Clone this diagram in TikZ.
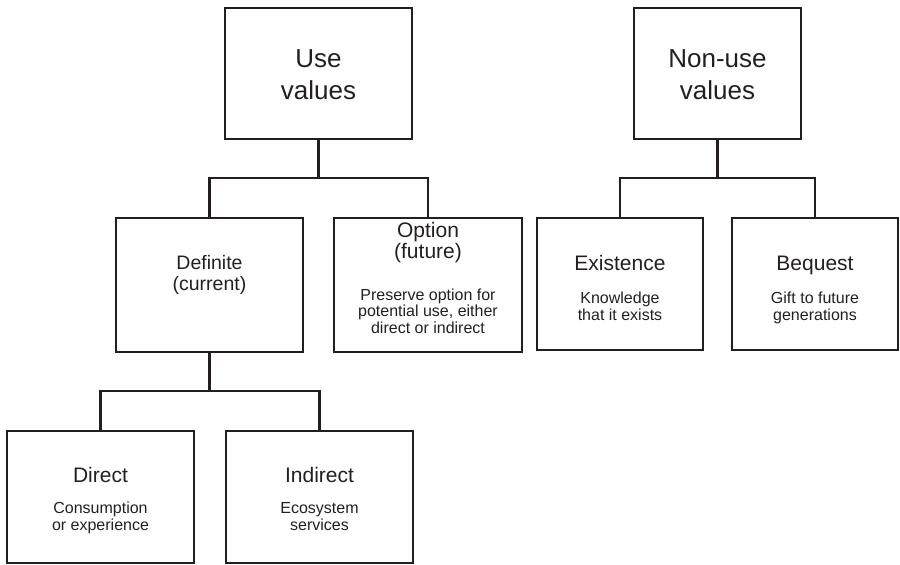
\documentclass[tikz,border=0pt]{standalone}
\usepackage{fontspec}
\setmainfont{Liberation Sans}
\definecolor{ink}{RGB}{35,31,32}
\begin{document}
\begin{tikzpicture}[x=1pt,y=-1pt,
  box/.style={draw=ink, line width=1.2pt, inner sep=0pt, outer sep=0pt},
  conn/.style={draw=ink, line width=2.6pt, line join=miter},
  txt/.style={text=ink, inner sep=0pt, anchor=base},
  ttl/.style={txt, font=\fontsize{26}{30}\selectfont},
  hd/.style={txt, font=\fontsize{21}{25}\selectfont},
  hdd/.style={txt, font=\fontsize{19.5}{23}\selectfont},
  sm/.style={txt, font=\fontsize{16}{19}\selectfont}]
\useasboundingbox (0,0) rectangle (900,565);

% boxes
\node[box, minimum width=187pt, minimum height=131pt] (use) at (318.5,73.5) {};
\node[box, minimum width=167pt, minimum height=131pt] (non) at (717.5,73.5) {};
\node[box, minimum width=187pt, minimum height=134pt] (def) at (209.5,285) {};
\node[box, minimum width=188pt, minimum height=134pt] (opt) at (428,285) {};
\node[box, minimum width=166pt, minimum height=132pt] (exi) at (620,284) {};
\node[box, minimum width=166pt, minimum height=132pt] (beq) at (815,284) {};
\node[box, minimum width=187pt, minimum height=132pt] (dir) at (100.5,497) {};
\node[box, minimum width=187pt, minimum height=132pt] (ind) at (319.5,497) {};

% connectors
\coordinate (j1) at (318.5,178);
\coordinate (j2) at (717.5,178);
\coordinate (j3) at (209.5,391);
\draw[conn] (use.south) -- (j1);
\draw[conn] (def.north) |- (j1) -| (opt.north);
\draw[conn] (non.south) -- (j2);
\draw[conn] (exi.north) |- (j2) -| (beq.north);
\draw[conn] (def.south) -- (j3);
\draw[conn] (dir.north) |- (j3) -| (ind.north);

% texts
\node[ttl] (use1) at (318.5,67) {Use};
\node[ttl] (use2) at (318.5,99) {values};
\node[ttl] (non1) at (717.5,67) {Non-use};
\node[ttl] (non2) at (717.5,99) {values};

\node[hdd] (def1) at (209.5,269) {Definite};
\node[hdd] (def2) at (209.5,290.5) {(current)};

\node[hd] (opt1) at (428,237) {Option};
\node[hd] (opt2) at (428,258) {(future)};
\node[sm] (opt3) at (428,300) {Preserve option for};
\node[sm] (opt4) at (428,316.7) {potential use, either};
\node[sm] (opt5) at (428,333.3) {direct or indirect};

\node[hd] (exi1) at (620,270.5) {Existence};
\node[sm] (exi2) at (620,303.3) {Knowledge};
\node[sm] (exi3) at (620,320) {that it exists};

\node[hd] (beq1) at (815,270.5) {Bequest};
\node[sm] (beq2) at (815,303.3) {Gift to future};
\node[sm] (beq3) at (815,320) {generations};

\node[hd] (dir1) at (100.5,482) {Direct};
\node[sm] (dir2) at (100.5,513) {Consumption};
\node[sm] (dir3) at (100.5,530.7) {or experience};

\node[hd] (ind1) at (319.5,482) {Indirect};
\node[sm] (ind2) at (319.5,513) {Ecosystem};
\node[sm] (ind3) at (319.5,530.7) {services};
\end{tikzpicture}
\end{document}
